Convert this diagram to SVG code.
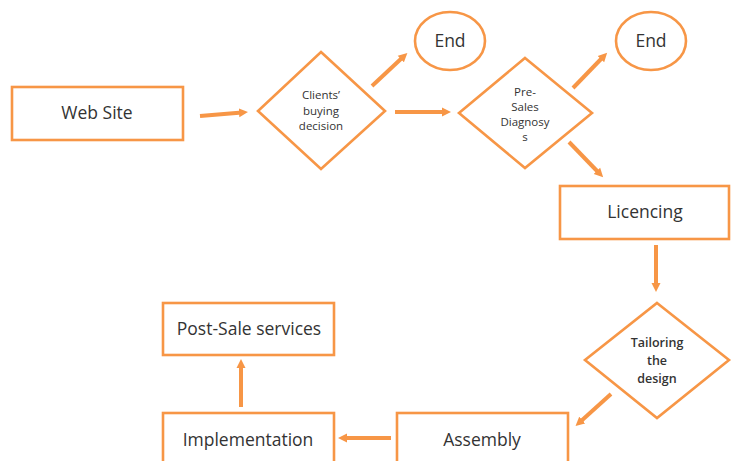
<svg xmlns="http://www.w3.org/2000/svg" width="734" height="461" viewBox="0 0 734 461">
  <defs>
    <marker id="head" markerUnits="userSpaceOnUse" markerWidth="10" markerHeight="10" viewBox="0 0 10 10" refX="3" refY="5" orient="auto">
      <path d="M0,0.5 L9,5 L0,9.5 z" fill="#F79646"/>
    </marker>
    <style>
      .shape { fill: #ffffff; stroke: #F79646; stroke-width: 2.6; }
      .link { stroke: #F79646; stroke-width: 4; fill: none; marker-end: url(#head); }
      .lbl { font-family: "Open Sans", "Liberation Sans", sans-serif; fill: #333333; text-anchor: middle; }
      .big { font-size: 17.5px; }
      .small { font-size: 11.5px; }
      .bold { font-size: 12.5px; font-weight: 600; }
    </style>
  </defs>

  <rect width="734" height="461" fill="#ffffff"/>

  <g id="connectors">
    <line class="link" x1="200" y1="116" x2="242" y2="112.5"/>
    <line class="link" x1="372" y1="86" x2="403" y2="57"/>
    <line class="link" x1="395" y1="112" x2="445" y2="112"/>
    <line class="link" x1="573" y1="88" x2="603" y2="57"/>
    <line class="link" x1="569" y1="142" x2="599" y2="173"/>
    <line class="link" x1="656" y1="245" x2="656" y2="286"/>
    <line class="link" x1="611" y1="394" x2="580" y2="422"/>
    <line class="link" x1="391" y1="438" x2="344" y2="438"/>
    <line class="link" x1="241" y1="407" x2="241" y2="365"/>
  </g>

  <g id="web-site">
    <rect class="shape" x="12" y="87" width="171" height="53"/>
    <text class="lbl big" x="97" y="119">Web Site</text>
  </g>

  <g id="clients-buying-decision">
    <polygon class="shape" points="321,52 385,111 321,169 258,111"/>
    <text class="lbl small" x="321" y="99">Clients’</text>
    <text class="lbl small" x="321" y="115">buying</text>
    <text class="lbl small" x="321" y="130">decision</text>
  </g>

  <g id="end-1">
    <ellipse class="shape" cx="450" cy="41" rx="35" ry="29"/>
    <text class="lbl big" x="450" y="47">End</text>
  </g>

  <g id="pre-sales-diagnosys">
    <polygon class="shape" points="525,58 592,113 525,168 459,113"/>
    <text class="lbl small" x="525" y="96">Pre-</text>
    <text class="lbl small" x="525" y="111">Sales</text>
    <text class="lbl small" x="525" y="126">Diagnosy</text>
    <text class="lbl small" x="525" y="141">s</text>
  </g>

  <g id="end-2">
    <ellipse class="shape" cx="651" cy="41" rx="35" ry="29"/>
    <text class="lbl big" x="651" y="47">End</text>
  </g>

  <g id="licencing">
    <rect class="shape" x="560" y="186" width="169" height="53"/>
    <text class="lbl big" x="645" y="218">Licencing</text>
  </g>

  <g id="tailoring-the-design">
    <polygon class="shape" points="657,303 729,360 657,418 585,360"/>
    <text class="lbl bold" x="657" y="347">Tailoring</text>
    <text class="lbl bold" x="657" y="365">the</text>
    <text class="lbl bold" x="657" y="383">design</text>
  </g>

  <g id="assembly">
    <rect class="shape" x="397" y="413" width="171" height="60"/>
    <text class="lbl big" x="482" y="446">Assembly</text>
  </g>

  <g id="implementation">
    <rect class="shape" x="163" y="413" width="171" height="60"/>
    <text class="lbl big" x="248" y="446">Implementation</text>
  </g>

  <g id="post-sale-services">
    <rect class="shape" x="163" y="303" width="171" height="52"/>
    <text class="lbl big" x="249" y="335">Post-Sale services</text>
  </g>
</svg>
